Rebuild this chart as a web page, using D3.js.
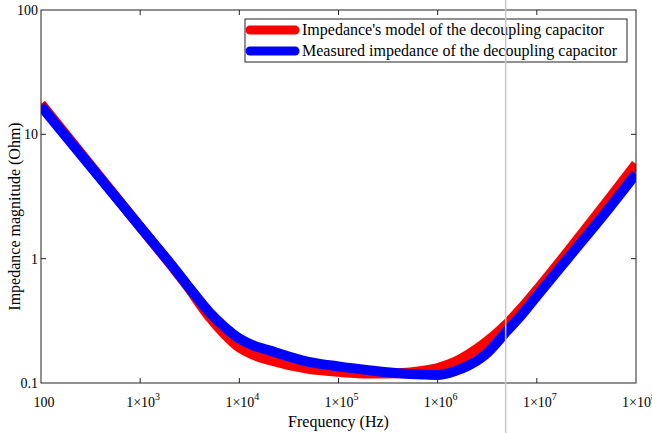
<!DOCTYPE html>
<html>
<head>
<meta charset="utf-8">
<script src="https://cdn.jsdelivr.net/npm/d3@7"></script>
<style>
  body { margin: 0; background: #fff; }
  text { font-family: "Liberation Serif", "Times New Roman", serif; fill: #000; }
</style>
</head>
<body>
<div id="chart"></div>
<script>
// frequency points (Hz) and impedance magnitudes (Ohm)
var freqs = [100, 1e3, 2e3, 3e3, 5e3, 7e3, 1e4, 1.4e4, 2e4, 5e4, 1e5, 2e5, 4e5, 7e5, 1e6, 1.5e6, 2e6, 3e6, 5e6, 7e6, 1e7, 2e7, 5e7, 1e8]
var modelZ = [17.6, 1.80, 0.91, 0.60, 0.34, 0.25, 0.193, 0.168, 0.153, 0.130, 0.123, 0.119, 0.120, 0.125, 0.132, 0.148, 0.168, 0.21, 0.30, 0.40, 0.56, 1.11, 2.81, 5.78]
var measuredZ = [16.9, 1.80, 0.92, 0.61, 0.37, 0.285, 0.228, 0.200, 0.183, 0.148, 0.136, 0.127, 0.120, 0.117, 0.116, 0.125, 0.137, 0.168, 0.262, 0.352, 0.50, 0.98, 2.38, 4.81]

var xTicks = [100, 1e3, 1e4, 1e5, 1e6, 1e7, 1e8]
var xTickLabels = ["100", "1×10|3", "1×10|4", "1×10|5", "1×10|6", "1×10|7", "1×10|8"]
var yTicks = [0.1, 1, 10, 100]
var yTickLabels = ["0.1", "1", "10", "100"]
var seriesNames = ["Impedance's model of the decoupling capacitor", "Measured impedance of the decoupling capacitor"]
var seriesColors = ["#ff0000", "#0000ff"]
var markerFreq = 4.85e6

var width = 652, height = 433
var margin = {left: 41, top: 10, right: 16, bottom: 50}

var svg = d3.select("#chart").append("svg")
    .attr("width", width)
    .attr("height", height)

var x = d3.scaleLog().domain([100, 1e8]).range([margin.left, width - margin.right])
var y = d3.scaleLog().domain([0.1, 100]).range([height - margin.bottom, margin.top])

svg.append("defs").append("clipPath").attr("id", "plotclip")
    .append("rect")
    .attr("x", x.range()[0]).attr("y", y.range()[1])
    .attr("width", x.range()[1] - x.range()[0])
    .attr("height", y.range()[0] - y.range()[1])

// series
var line = d3.line()
    .x(function (d) { return x(d[0]) })
    .y(function (d) { return y(d[1]) })
    .curve(d3.curveMonotoneX)

var series = [modelZ, measuredZ]
series.forEach(function (vals, i) {
    svg.append("path")
        .datum(freqs.map(function (f, j) { return [f, vals[j]] }))
        .attr("clip-path", "url(#plotclip)")
        .attr("fill", "none")
        .attr("stroke", seriesColors[i])
        .attr("stroke-width", 10)
        .attr("stroke-linejoin", "round")
        .attr("d", line)
})

// axes box
var x0 = x.range()[0], x1 = x.range()[1], y0 = y.range()[0], y1 = y.range()[1]
svg.append("rect")
    .attr("x", x0).attr("y", y1)
    .attr("width", x1 - x0).attr("height", y0 - y1)
    .attr("fill", "none").attr("stroke", "#222").attr("stroke-width", 1)

// ticks (inside, both sides)
var tickLen = 5
xTicks.slice(1, -1).forEach(function (t) {
    svg.append("line").attr("x1", x(t)).attr("x2", x(t)).attr("y1", y0).attr("y2", y0 - tickLen).attr("stroke", "#222")
    svg.append("line").attr("x1", x(t)).attr("x2", x(t)).attr("y1", y1).attr("y2", y1 + tickLen).attr("stroke", "#222")
})
yTicks.slice(1, -1).forEach(function (t) {
    svg.append("line").attr("x1", x0).attr("x2", x0 + tickLen).attr("y1", y(t)).attr("y2", y(t)).attr("stroke", "#222")
    svg.append("line").attr("x1", x1).attr("x2", x1 - tickLen).attr("y1", y(t)).attr("y2", y(t)).attr("stroke", "#222")
})

// x tick labels
xTicks.forEach(function (t, i) {
    var parts = xTickLabels[i].split("|")
    var tx = svg.append("text")
        .attr("x", x(t) + 3)
        .attr("y", y0 + 24)
        .attr("text-anchor", "middle")
        .style("font-size", "14px")
    tx.append("tspan").text(parts[0])
    if (parts.length > 1) {
        tx.append("tspan").attr("dy", -7).style("font-size", "10px").text(parts[1])
    }
})

// y tick labels
yTicks.forEach(function (t, i) {
    svg.append("text")
        .attr("x", x0 - 3)
        .attr("y", y(t) + 5)
        .attr("text-anchor", "end")
        .style("font-size", "14px")
        .text(yTickLabels[i])
})

// axis titles
svg.append("text")
    .attr("x", (x0 + x1) / 2)
    .attr("y", 427)
    .attr("text-anchor", "middle")
    .style("font-size", "16px")
    .text("Frequency (Hz)")

svg.append("text")
    .attr("transform", "translate(20," + ((y0 + y1) / 2 + 20) + ") rotate(-90)")
    .attr("text-anchor", "middle")
    .style("font-size", "16px")
    .text("Impedance magnitude (Ohm)")

// legend
var legend = svg.append("g").attr("transform", "translate(245,19)")
legend.append("rect")
    .attr("width", 382).attr("height", 43)
    .attr("fill", "#fff").attr("stroke", "#222").attr("stroke-width", 1)
seriesNames.forEach(function (name, i) {
    var ly = 11 + i * 21
    legend.append("line")
        .attr("x1", 5).attr("x2", 50).attr("y1", ly).attr("y2", ly)
        .attr("stroke", seriesColors[i]).attr("stroke-width", 9)
        .attr("stroke-linecap", "round")
    legend.append("text")
        .attr("x", 57).attr("y", ly + 5)
        .style("font-size", "16px")
        .text(name)
})

// grey vertical marker across the whole figure
svg.append("line")
    .attr("x1", x(markerFreq)).attr("x2", x(markerFreq))
    .attr("y1", 0).attr("y2", height)
    .attr("stroke", "#c8c8c8").attr("stroke-width", 1.5)
</script>
</body>
</html>
